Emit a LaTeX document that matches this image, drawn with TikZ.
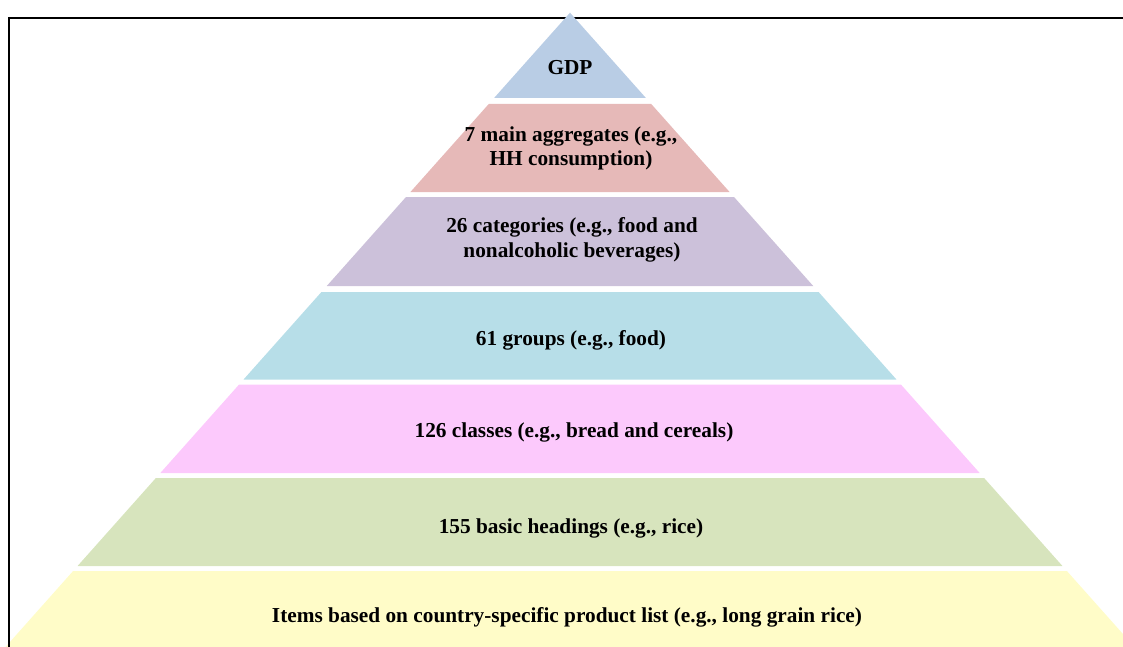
\documentclass[tikz,border=0pt]{standalone}
\usepackage{fontspec}
\setmainfont{Liberation Serif}
\definecolor{cGDP}{HTML}{B9CDE5}
\definecolor{cAgg}{HTML}{E6B9B8}
\definecolor{cCat}{HTML}{CCC1DA}
\definecolor{cGrp}{HTML}{B7DEE8}
\definecolor{cCls}{HTML}{FCC9FC}
\definecolor{cBH}{HTML}{D7E4BD}
\definecolor{cItm}{HTML}{FFFCC8}
\tikzset{
  lbl/.style={font=\fontsize{21.3}{24.5}\selectfont\bfseries, text=black, inner sep=0pt, align=center, anchor=base},
  frame/.style={line width=2.4pt, draw=black}
}
\newcommand{\band}[3]{% top, bottom, colour
  \fill[#3] ({570-0.89*(#1-12.7)},#1) -- ({570+0.89*(#1-12.7)},#1) -- ({570+0.89*(#2-12.7)},#2) -- ({570-0.89*(#2-12.7)},#2) -- cycle;}
\begin{document}
\begin{tikzpicture}[x=1pt,y=-1pt]
\useasboundingbox (0,0) rectangle (1123,647);
\draw[frame] (8,18) -- (1123,18);
\fill[cGDP] (570,12.7) -- ({570+0.89*(98-12.7)},98) -- ({570-0.89*(98-12.7)},98) -- cycle;
\band{104}{192}{cAgg}
\band{197}{286}{cCat}
\band{292}{379.5}{cGrp}
\band{384.5}{473}{cCls}
\band{478}{566}{cBH}
\band{571}{660}{cItm}
\draw[frame] (9,17) -- (9,647);
\node[lbl] (gdp) at (570,75) {GDP};
\node[lbl] (agg) at (571,165.7) {7 main aggregates (e.g.,\\HH consumption)};
\node[lbl] (cat) at (572,257) {26 categories (e.g., food and\\nonalcoholic beverages)};
\node[lbl] (grp) at (571,345) {61 groups (e.g., food)};
\node[lbl] (cls) at (574,437) {126 classes (e.g., bread and cereals)};
\node[lbl] (bh) at (571,533) {155 basic headings (e.g., rice)};
\node[lbl] (itm) at (567,622) {Items based on country-specific product list (e.g., long grain rice)};
\end{tikzpicture}
\end{document}
